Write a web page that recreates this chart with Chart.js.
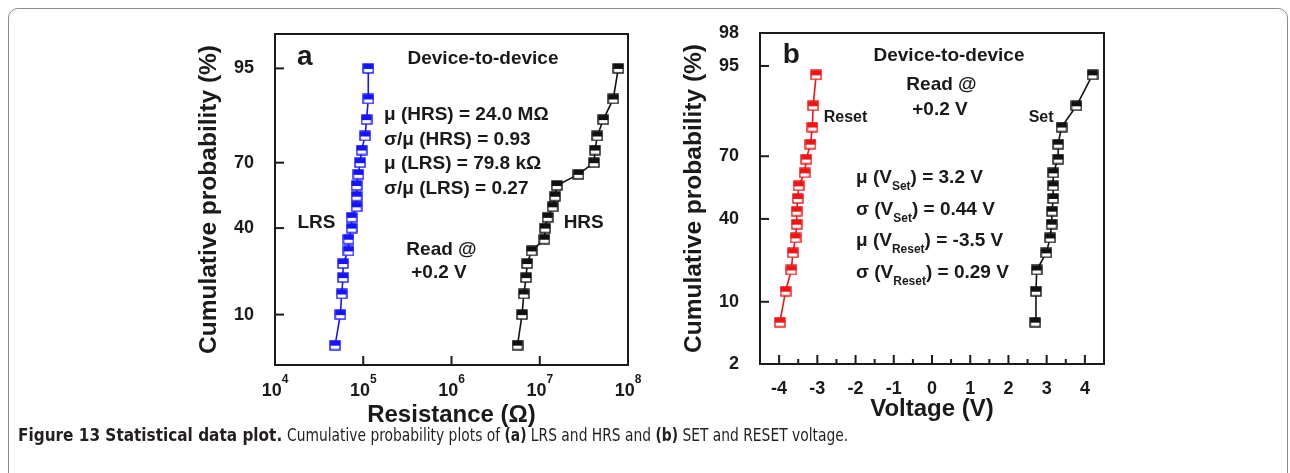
<!DOCTYPE html>
<html>
<head>
<meta charset="utf-8">
<title>Statistical data plot</title>
<script src="https://cdn.jsdelivr.net/npm/chart.js@4.4.1/dist/chart.umd.min.js"></script>
<style>
    html, body { margin: 0; padding: 0; background: #fff; }
    body { width: 1290px; height: 473px; position: relative; overflow: hidden; }
    #frame { position: absolute; left: 8px; top: 8px; width: 1278px; height: 520px;
             border: 1px solid #8c8c8c; border-radius: 10px; }
    canvas { position: absolute; top: 0; }
    #chartA { left: 170px; }
    #chartB { left: 655px; }
    #caption { position: absolute; left: 18px; top: 425px; color: #231f20; white-space: nowrap;
               font: 17px 'DejaVu Sans Condensed', sans-serif; }
    #caption .rest { display: inline-block; transform: scaleX(0.905); transform-origin: 0 50%; }
</style>
</head>
<body>
<div id="frame"></div>
<canvas id="chartA" width="480" height="440"></canvas>
<canvas id="chartB" width="480" height="440"></canvas>
<div id="caption"><b>Figure 13 Statistical data plot.</b> <span class="rest">Cumulative probability plots of <b>(a)</b> LRS and HRS and <b>(b)</b> SET and RESET voltage.</span></div>
<script>
// cumulative probability (%) of each sorted device
var PROB_A = [5, 10, 15, 20, 25, 30, 35, 40, 45, 50, 55, 60, 65, 70, 75, 80, 85, 90, 95];
var LRS_OHM = [4.8e4, 5.5e4, 5.7e4, 5.9e4, 5.9e4, 6.8e4, 6.8e4, 7.4e4, 7.4e4, 8.4e4,
               8.4e4, 8.4e4, 8.8e4, 9.2e4, 9.6e4, 1.05e5, 1.09e5, 1.14e5, 1.14e5];
var HRS_OHM = [5.6e6, 6.3e6, 6.6e6, 7.0e6, 7.2e6, 8.1e6, 1.13e7, 1.15e7, 1.23e7, 1.40e7,
               1.49e7, 1.56e7, 2.74e7, 4.12e7, 4.23e7, 4.49e7, 5.25e7, 6.81e7, 7.76e7];

var PROB_B = [6.25, 12.5, 18.75, 25, 31.25, 37.5, 43.75, 50, 56.25, 62.5, 68.75, 75, 81.25, 87.5, 93.75];
var RESET_V = [-3.98, -3.83, -3.68, -3.64, -3.57, -3.54, -3.54, -3.51, -3.49, -3.33, -3.29, -3.18, -3.13, -3.11, -3.03];
var SET_V = [2.70, 2.72, 2.74, 2.99, 3.09, 3.13, 3.14, 3.17, 3.17, 3.17, 3.30, 3.30, 3.39, 3.78, 4.20];

var Y_TICKS_A = [10, 40, 70, 95];
var Y_TICKS_B = [2, 10, 40, 70, 95, 98];
var X_TICKS_A = [1e4, 1e5, 1e6, 1e7, 1e8];
var X_TICKS_B = [-4, -3, -2, -1, 0, 1, 2, 3, 4];
var X_MINOR_B = [-3.5, -2.5, -1.5, -0.5, 0.5, 1.5, 2.5, 3.5];

var INK = '#1a1a1a';

Chart.defaults.font.family = "'Liberation Sans', Arial, sans-serif";
Chart.defaults.font.weight = 'bold';
Chart.defaults.color = INK;

// inverse of the standard normal CDF (Acklam)
function probit(p) {
    var a = [-3.969683028665376e+01, 2.209460984245205e+02, -2.759285104469687e+02, 1.383577518672690e+02, -3.066479806614716e+01, 2.506628277459239e+00],
        b = [-5.447609879822406e+01, 1.615858368580409e+02, -1.556989798598866e+02, 6.680131188771972e+01, -1.328068155288572e+01],
        c = [-7.784894002430293e-03, -3.223964580411365e-01, -2.400758277161838e+00, -2.549732539343734e+00, 4.374664141464968e+00, 2.938163982698783e+00],
        d = [7.784695709041462e-03, 3.224671290700398e-01, 2.445134137142996e+00, 3.754408661907416e+00],
        plow = 0.02425, q, r;
    if (p < plow) {
        q = Math.sqrt(-2 * Math.log(p));
        return (((((c[0] * q + c[1]) * q + c[2]) * q + c[3]) * q + c[4]) * q + c[5]) / ((((d[0] * q + d[1]) * q + d[2]) * q + d[3]) * q + 1);
    }
    if (p > 1 - plow) {
        q = Math.sqrt(-2 * Math.log(1 - p));
        return -(((((c[0] * q + c[1]) * q + c[2]) * q + c[3]) * q + c[4]) * q + c[5]) / ((((d[0] * q + d[1]) * q + d[2]) * q + d[3]) * q + 1);
    }
    q = p - 0.5;
    r = q * q;
    return (((((a[0] * r + a[1]) * r + a[2]) * r + a[3]) * r + a[4]) * r + a[5]) * q / (((((b[0] * r + b[1]) * r + b[2]) * r + b[3]) * r + b[4]) * r + 1);
}

// normal probability axis, values in percent
class ProbabilityScale extends Chart.Scale {
    determineDataLimits() {
        this.min = this.options.min;
        this.max = this.options.max;
    }
    buildTicks() {
        return [];
    }
    configure() {
        super.configure();
        this._zMin = probit(this.min / 100);
        this._zMax = probit(this.max / 100);
    }
    getLabelForValue(value) {
        return String(value);
    }
    getPixelForValue(value) {
        return this.getPixelForDecimal((probit(value / 100) - this._zMin) / (this._zMax - this._zMin));
    }
    getPixelForTick(index) {
        return this.getPixelForValue(this.ticks[index].value);
    }
    getValueForPixel(pixel) {
        var z = this._zMin + this.getDecimalForPixel(pixel) * (this._zMax - this._zMin);
        var lo = 0, hi = 1, mid, i;
        for (i = 0; i < 50; i++) {
            mid = (lo + hi) / 2;
            if (probit(mid) < z) lo = mid; else hi = mid;
        }
        return mid * 100;
    }
}
ProbabilityScale.id = 'probability';
ProbabilityScale.defaults = {};
Chart.register(ProbabilityScale);

// top half filled, bottom half open square
function halfSquare(color) {
    var c = document.createElement('canvas'),
        ctx = c.getContext('2d');
    c.width = 12;
    c.height = 11;
    ctx.fillStyle = '#fff';
    ctx.fillRect(1, 1, 10, 9);
    ctx.fillStyle = color;
    ctx.fillRect(1, 1, 10, 5);
    ctx.strokeStyle = color;
    ctx.lineWidth = 1.4;
    ctx.strokeRect(1, 1, 10, 9);
    return c;
}

function series(xs, ps, color) {
    return {
        data: xs.map(function (x, i) { return {x: x, y: ps[i]}; }),
        borderColor: color,
        borderWidth: 1.6,
        pointStyle: halfSquare(color),
        pointRadius: 6,
        tension: 0,
        fill: false
    };
}

function setTicks(values) {
    return function (scale) {
        scale.ticks = values.map(function (v) { return {value: v}; });
    };
}

function drawLine(ctx, x1, y1, x2, y2) {
    ctx.beginPath();
    ctx.moveTo(x1, y1);
    ctx.lineTo(x2, y2);
    ctx.stroke();
}

// box, inward ticks, power-of-ten labels and in-plot notes
var panelDecor = {
    id: 'panelDecor',
    beforeDatasetsDraw: function (chart, args, opts) {
        var ctx = chart.ctx,
            area = chart.chartArea,
            xs = chart.scales.x,
            ys = chart.scales.y;

        ctx.save();
        ctx.strokeStyle = INK;
        ctx.lineWidth = 2;
        ctx.strokeRect(area.left, area.top, area.right - area.left, area.bottom - area.top);

        (opts.xMajor || []).forEach(function (v) {
            var px = xs.getPixelForValue(v);
            drawLine(ctx, px, area.bottom, px, area.bottom - 9);
        });
        (opts.xMinor || []).forEach(function (v) {
            var px = xs.getPixelForValue(v);
            drawLine(ctx, px, area.bottom, px, area.bottom - 5);
        });
        (opts.yMajor || []).forEach(function (v) {
            var py = ys.getPixelForValue(v);
            drawLine(ctx, area.left, py, area.left + 9, py);
        });
        ctx.restore();
    },
    afterDraw: function (chart, args, opts) {
        var ctx = chart.ctx,
            area = chart.chartArea,
            xs = chart.scales.x;

        ctx.save();
        ctx.fillStyle = INK;
        ctx.textBaseline = 'alphabetic';

        if (opts.powerLabels) {
            xs.ticks.forEach(function (t) {
                var px = xs.getPixelForValue(t.value),
                    exp = String(Math.round(Math.log10(t.value))),
                    base = '10', w1, w2, left;
                ctx.font = 'bold 18px ' + Chart.defaults.font.family;
                w1 = ctx.measureText(base).width;
                ctx.font = 'bold 12px ' + Chart.defaults.font.family;
                w2 = ctx.measureText(exp).width;
                left = px - (w1 + w2) / 2;
                ctx.textAlign = 'left';
                ctx.font = 'bold 18px ' + Chart.defaults.font.family;
                ctx.fillText(base, left, area.bottom + 31);
                ctx.font = 'bold 12px ' + Chart.defaults.font.family;
                ctx.fillText(exp, left + w1, area.bottom + 18);
            });
        }

        (opts.notes || []).forEach(function (note) {
            var size = note.size || 19,
                parts = note.parts || [[note.text, false]],
                widths, total, x;
            widths = parts.map(function (p) {
                ctx.font = 'bold ' + (p[1] ? 12 : size) + 'px ' + Chart.defaults.font.family;
                return ctx.measureText(p[0]).width;
            });
            total = widths.reduce(function (s, w) { return s + w; }, 0);
            x = area.left + note.dx - (note.align === 'center' ? total / 2 : 0);
            ctx.textAlign = 'left';
            parts.forEach(function (p, i) {
                ctx.font = 'bold ' + (p[1] ? 12 : size) + 'px ' + Chart.defaults.font.family;
                ctx.fillText(p[0], x, area.top + note.dy + (p[1] ? 7 : 0));
                x += widths[i];
            });
        });
        ctx.restore();
    }
};

function yAxis(min, max, ticks) {
    return {
        type: 'probability',
        min: min,
        max: max,
        afterBuildTicks: setTicks(ticks),
        afterFit: function (scale) { scale.width = 105; },
        grid: {display: false},
        border: {display: false},
        ticks: {padding: 13, font: {size: 18, weight: 'bold'}, color: INK},
        title: {
            display: true,
            text: 'Cumulative probability (%)',
            color: INK,
            font: {size: 24.5, weight: 'bold'},
            padding: {top: 25, bottom: 0}
        }
    };
}

var baseOptions = {
    responsive: false,
    animation: false,
    events: [],
    plugins: {legend: {display: false}, tooltip: {enabled: false}}
};

new Chart(document.getElementById('chartA').getContext('2d'), {
    type: 'line',
    data: {
        datasets: [
            series(LRS_OHM, PROB_A, '#1414ff'),
            series(HRS_OHM, PROB_A, '#111111')
        ]
    },
    options: Object.assign({}, baseOptions, {
        layout: {padding: {left: 0, top: 34, right: 22, bottom: 10.6}},
        scales: {
            x: {
                type: 'logarithmic',
                min: 1e4,
                max: 1e8,
                afterBuildTicks: setTicks(X_TICKS_A),
                afterFit: function (scale) { scale.height = 64.4; },
                grid: {display: false},
                border: {display: false},
                ticks: {display: false},
                title: {display: true, text: 'Resistance (\u03A9)', color: INK, font: {size: 24, weight: 'bold'}, padding: 0}
            },
            y: yAxis(3, 98, Y_TICKS_A)
        },
        plugins: Object.assign({}, baseOptions.plugins, {
            panelDecor: {
                xMajor: X_TICKS_A.slice(1, -1),
                yMajor: Y_TICKS_A,
                powerLabels: true,
                notes: [
                    {text: 'a', dx: 22, dy: 31, size: 28},
                    {text: 'Device-to-device', dx: 208, dy: 30, align: 'center'},
                    {text: '\u03BC (HRS) = 24.0 M\u03A9', dx: 109, dy: 86},
                    {text: '\u03C3/\u03BC (HRS) = 0.93', dx: 109, dy: 110.5},
                    {text: '\u03BC (LRS) = 79.8 k\u03A9', dx: 109, dy: 135},
                    {text: '\u03C3/\u03BC (LRS) = 0.27', dx: 109, dy: 159.5},
                    {text: 'LRS', dx: 41.5, dy: 194, align: 'center'},
                    {text: 'HRS', dx: 308.7, dy: 194, align: 'center'},
                    {text: 'Read @', dx: 166.5, dy: 221, align: 'center'},
                    {text: '+0.2 V', dx: 164, dy: 244, align: 'center'}
                ]
            }
        })
    }),
    plugins: [panelDecor]
});

new Chart(document.getElementById('chartB').getContext('2d'), {
    type: 'line',
    data: {
        datasets: [
            series(RESET_V, PROB_B, '#f01414'),
            series(SET_V, PROB_B, '#111111')
        ]
    },
    options: Object.assign({}, baseOptions, {
        layout: {padding: {left: 0, top: 33, right: 31, bottom: 16.6}},
        scales: {
            x: {
                type: 'linear',
                min: -4.5,
                max: 4.5,
                afterBuildTicks: setTicks(X_TICKS_B),
                afterFit: function (scale) { scale.height = 59.4; },
                grid: {display: false},
                border: {display: false},
                ticks: {padding: 6, font: {size: 18, weight: 'bold'}, color: INK},
                title: {display: true, text: 'Voltage (V)', color: INK, font: {size: 24, weight: 'bold'}, padding: 0}
            },
            y: yAxis(2, 98, Y_TICKS_B)
        },
        plugins: Object.assign({}, baseOptions.plugins, {
            panelDecor: {
                xMajor: X_TICKS_B,
                xMinor: X_MINOR_B,
                yMajor: [10, 40, 70, 95],
                notes: [
                    {text: 'b', dx: 22.7, dy: 30.3, size: 28},
                    {text: 'Device-to-device', dx: 189, dy: 27.5, align: 'center'},
                    {text: 'Read @', dx: 181.5, dy: 57, align: 'center'},
                    {text: '+0.2 V', dx: 180, dy: 82, align: 'center'},
                    {text: 'Reset', dx: 63.7, dy: 88.7, size: 16},
                    {text: 'Set', dx: 268.7, dy: 88.7, size: 16},
                    {parts: [['\u03BC (V', false], ['Set', true], [') = 3.2 V', false]], dx: 96, dy: 150.3},
                    {parts: [['\u03C3 (V', false], ['Set', true], [') = 0.44 V', false]], dx: 96, dy: 182},
                    {parts: [['\u03BC (V', false], ['Reset', true], [') = -3.5 V', false]], dx: 96, dy: 212.7},
                    {parts: [['\u03C3 (V', false], ['Reset', true], [') = 0.29 V', false]], dx: 96, dy: 245.3}
                ]
            }
        })
    }),
    plugins: [panelDecor]
});
</script>
</body>
</html>
